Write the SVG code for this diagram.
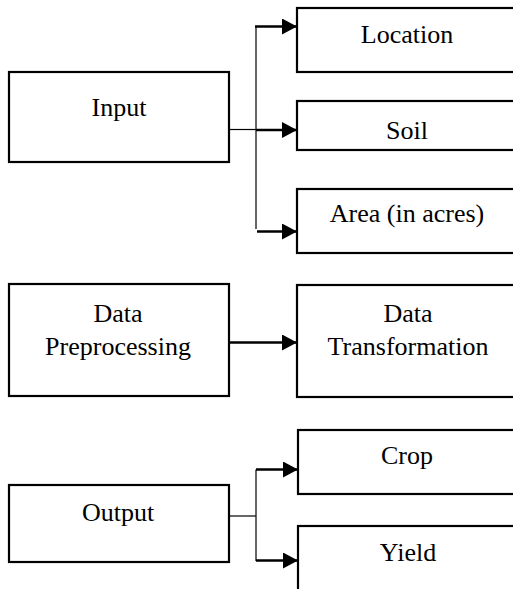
<svg xmlns="http://www.w3.org/2000/svg" width="513" height="589" viewBox="0 0 513 589">
  <style>
    .box { fill: #ffffff; stroke: #000000; stroke-width: 2.2; }
    .lbl { font-family: "Liberation Serif", "Times New Roman", Tinos, "DejaVu Serif", serif; font-size: 26px; fill: #000000; text-anchor: middle; }
    .thin { stroke: #000000; stroke-width: 1.2; fill: none; }
    .arrow { stroke: #000000; stroke-width: 2.4; fill: none; marker-end: url(#head); }
  </style>
  <defs>
    <marker id="head" markerUnits="userSpaceOnUse" markerWidth="16" markerHeight="17" refX="15" refY="8" orient="auto">
      <path d="M0,0 L15,8 L0,16 Z" fill="#000000"/>
    </marker>
  </defs>
  <rect width="513" height="589" fill="#ffffff"/>

  <!-- connectors -->
  <g id="connectors">
    <!-- Input fan-out -->
    <line class="thin" x1="229" y1="129.5" x2="256" y2="129.5"/>
    <line class="thin" x1="256" y1="26.5" x2="256" y2="229"/>
    <line class="arrow" x1="255" y1="26.5" x2="297" y2="26.5"/>
    <line class="arrow" x1="256" y1="130" x2="297" y2="130"/>
    <line class="arrow" x1="257" y1="231.5" x2="297" y2="231.5"/>
    <!-- Preprocessing to Transformation -->
    <line class="arrow" x1="229" y1="342.5" x2="297" y2="342.5"/>
    <!-- Output fan-out -->
    <line class="thin" x1="229" y1="516" x2="256" y2="516"/>
    <line class="thin" x1="256" y1="469.5" x2="256" y2="561"/>
    <line class="arrow" x1="256" y1="469.5" x2="298" y2="469.5"/>
    <line class="arrow" x1="256" y1="560.5" x2="298" y2="560.5"/>
  </g>

  <g id="input">
    <rect class="box" x="9" y="72" width="220" height="90"/>
    <text class="lbl" x="119" y="116" font-family="Liberation Serif, serif">Input</text>
  </g>
  <g id="location">
    <rect class="box" x="297" y="8" width="222" height="64"/>
    <text class="lbl" x="407" y="43">Location</text>
  </g>
  <g id="soil">
    <rect class="box" x="297" y="101" width="222" height="49"/>
    <text class="lbl" x="407" y="139">Soil</text>
  </g>
  <g id="area">
    <rect class="box" x="297" y="189" width="222" height="64"/>
    <text class="lbl" x="407" y="222">Area (in acres)</text>
  </g>
  <g id="preprocessing">
    <rect class="box" x="9" y="284" width="220" height="112"/>
    <text class="lbl" x="118" y="321.5">Data</text>
    <text class="lbl" x="118" y="355">Preprocessing</text>
  </g>
  <g id="transformation">
    <rect class="box" x="297" y="285" width="222" height="112"/>
    <text class="lbl" x="408" y="321.5">Data</text>
    <text class="lbl" x="408" y="355">Transformation</text>
  </g>
  <g id="output">
    <rect class="box" x="9" y="485" width="220" height="77"/>
    <text class="lbl" x="118" y="521">Output</text>
  </g>
  <g id="crop">
    <rect class="box" x="298" y="430" width="222" height="64"/>
    <text class="lbl" x="407" y="464">Crop</text>
  </g>
  <g id="yield">
    <rect class="box" x="298" y="526" width="222" height="80"/>
    <text class="lbl" x="408" y="561">Yield</text>
  </g>
</svg>
